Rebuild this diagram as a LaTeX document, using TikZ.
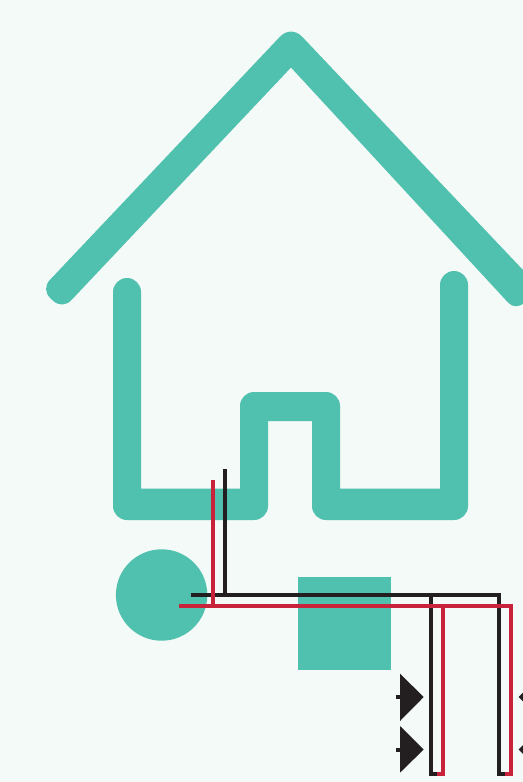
\documentclass[tikz,border=0pt]{standalone}
\definecolor{bgc}{HTML}{F3FAF7}
\definecolor{teal1}{HTML}{50C0AF}
\definecolor{blk}{HTML}{231F20}
\definecolor{rd}{HTML}{C8233A}
\tikzset{
  shapefill/.style={fill=teal1,draw=none},
  blackwire/.style={draw=blk,line width=3pt,line cap=butt,line join=miter},
  redwire/.style={draw=rd,line width=3pt,line cap=butt,line join=miter},
  marker/.style={fill=blk,draw=none}
}
\begin{document}
\begin{tikzpicture}[x=0.75pt,y=-0.75pt]
\path[use as bounding box,fill=bgc] (0,0) rectangle (523,782);
\clip (0,0) rectangle (523,782);
% roof
\path[shapefill] (279.7,37) .. controls (286.5,29.8) and (295.6,29.8) .. (302.4,37) -- (541,289) -- (524,303.5) .. controls (519.2,306.5) and (513,307.8) .. (508.5,303) -- (291,67.5) -- (71.4,300.1) .. controls (66.1,305.8) and (58.7,306) .. (53,300.7) -- (50.4,298.2) .. controls (44.8,292.9) and (44.6,285.5) .. (50,279.8) -- cycle;
% body
\path[shapefill] (113,292) arc[start angle=180,end angle=0,x radius=14,y radius=-14] -- (141,488.5) -- (240,488.5) -- (240,406) arc[start angle=180,end angle=90,x radius=14,y radius=-14] -- (326,392) arc[start angle=90,end angle=0,x radius=14,y radius=-14] -- (340,488.5) -- (440,488.5) -- (440,285) arc[start angle=180,end angle=0,x radius=14,y radius=-14] -- (468,506) arc[start angle=0,end angle=-90,x radius=14,y radius=-14] -- (326,520) arc[start angle=270,end angle=180,x radius=14,y radius=-14] -- (312,421) -- (268,421) -- (268,506) arc[start angle=0,end angle=-90,x radius=14,y radius=-14] -- (127,520) arc[start angle=270,end angle=180,x radius=14,y radius=-14] -- cycle;
% circle and square
\path[shapefill] (161.6,595) circle[radius=45.7];
\path[shapefill] (298,577) rectangle (391,670);
% triangles
\path[marker] (400,673.7) -- (423.7,697) -- (400,721) -- cycle;
\path[marker] (396,695) rectangle (401,699);
\path[marker] (400,726) -- (423.7,749.5) -- (400,772.7) -- cycle;
\path[marker] (396,748) rectangle (401,752);
\path[marker] (518.7,697) -- (523,692.7) -- (523,701.3) -- cycle;
\path[marker] (518.7,749.5) -- (523,745.2) -- (523,753.8) -- cycle;
% wires
\draw[blackwire] (224.7,469) -- (224.7,595);
\draw[blackwire] (190.7,595) -- (499.3,595) -- (499.3,773.7) -- (505,773.7);
\draw[blackwire] (431.3,595) -- (431.3,773.7) -- (437,773.7);
\draw[redwire] (213.3,479.5) -- (213.3,605.7);
\draw[redwire] (179,605.7) -- (511,605.7) -- (511,773.7) -- (505,773.7);
\draw[redwire] (443,605.7) -- (443,773.7) -- (437,773.7);
\end{tikzpicture}
\end{document}
